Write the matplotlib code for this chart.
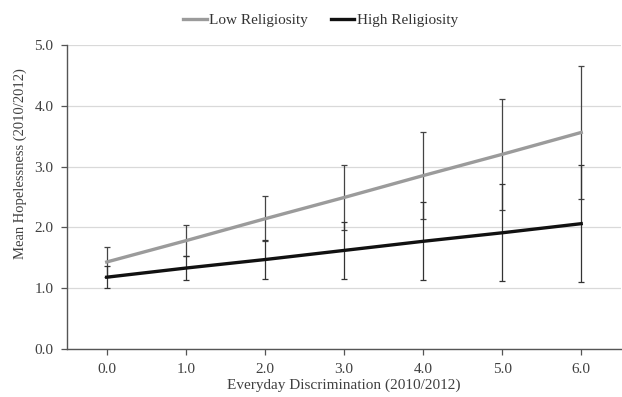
import matplotlib.pyplot as plt
import numpy as np

plt.rcParams["font.family"] = ["Liberation Serif", "DejaVu Serif"]

discrimination = [0.0, 1.0, 2.0, 3.0, 4.0, 5.0, 6.0]
low_mean = [1.43, 1.78, 2.14, 2.49, 2.85, 3.20, 3.56]
low_err = [0.24, 0.25, 0.37, 0.53, 0.71, 0.91, 1.09]
high_mean = [1.18, 1.33, 1.47, 1.62, 1.77, 1.91, 2.06]
high_err = [0.18, 0.20, 0.32, 0.47, 0.64, 0.80, 0.96]
y_ticks = [0.0, 1.0, 2.0, 3.0, 4.0, 5.0]

fig = plt.figure(figsize=(6.22, 3.97), dpi=100)
ax = fig.add_axes([0.108, 0.121, 0.89, 0.766])

ax.errorbar(discrimination, low_mean, yerr=low_err, fmt="none", ecolor="#444444",
            elinewidth=0.9, capsize=2.5, capthick=0.9, zorder=2)
ax.errorbar(discrimination, high_mean, yerr=high_err, fmt="none", ecolor="#333333",
            elinewidth=0.9, capsize=2.5, capthick=0.9, zorder=2)
ax.plot(discrimination, low_mean, color="#9b9b9b", lw=2.4, label="Low Religiosity", zorder=3)
ax.plot(discrimination, high_mean, color="#111111", lw=2.4, label="High Religiosity", zorder=3)

ax.set_xlim(-0.5, 6.5)
ax.set_ylim(0, 5)
ax.set_xticks(discrimination)
ax.set_xticklabels([f"{v:.1f}" for v in discrimination])
ax.set_yticks(y_ticks)
ax.set_yticklabels([f"{v:.1f}" for v in y_ticks])
ax.grid(axis="y", color="#d9d9d9", lw=0.9)
ax.set_axisbelow(True)

for side in ["top", "right"]:
    ax.spines[side].set_visible(False)
for side in ["left", "bottom"]:
    ax.spines[side].set_color("#555555")
    ax.spines[side].set_linewidth(1.0)
ax.tick_params(axis="both", colors="#555555", labelcolor="#404040", labelsize=11, length=4, width=0.9)
ax.tick_params(axis="x", pad=6)
ax.tick_params(axis="y", pad=6)

ax.set_xlabel("Everyday Discrimination (2010/2012)", fontsize=11, color="#404040", labelpad=2)
ax.set_ylabel("Mean Hopelessness (2010/2012)", fontsize=10.5, color="#404040")
ax.yaxis.set_label_coords(-0.072, 0.61)

fig.legend(loc="upper center", bbox_to_anchor=(0.515, 1.0), ncol=2, frameon=False,
           fontsize=11, handlelength=1.55, handletextpad=0.15, columnspacing=1.5,
           labelcolor="#333333")

fig.savefig("out.png", dpi=100)
